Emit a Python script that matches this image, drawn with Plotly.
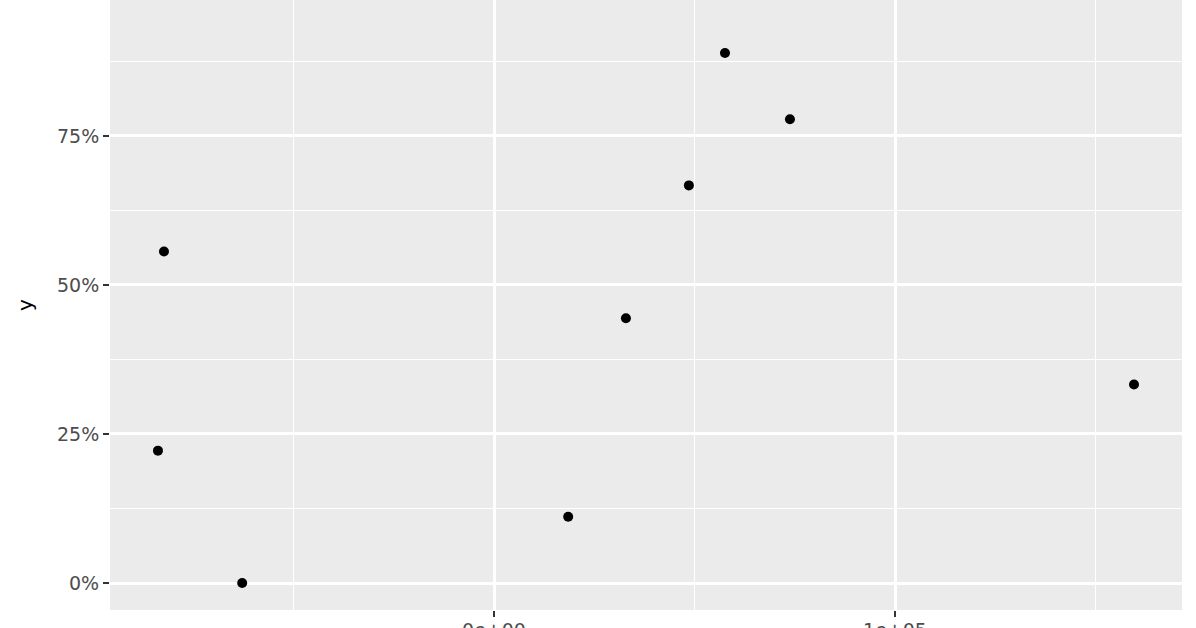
import plotly.graph_objects as go

# points (x in raw units, y as fraction)
x_vals = [-83800, -82300, -62800, 18500, 32900, 48600, 57600, 73800, 159600, -29700]
y_vals = [0.222, 0.556, 0.0, 0.111, 0.444, 0.667, 0.889, 0.778, 0.333, 1.0]

x_tickvals = [0, 100000]
x_ticktext = ["0e+00", "1e+05"]

panel_bg = "#EBEBEB"
tick_font = dict(family="DejaVu Sans", size=19, color="#4D4D4D")

fig = go.Figure()
fig.add_trace(go.Scatter(
    x=x_vals, y=y_vals, mode="markers",
    marker=dict(color="black", size=10),
    showlegend=False,
))

fig.update_xaxes(
    range=[-95761, 171571], automargin=False,
    tickvals=x_tickvals, ticktext=x_ticktext,
    ticks="outside", ticklen=6, tickwidth=2, tickcolor="#333333",
    tickfont=tick_font, ticklabelstandoff=-3,
    showgrid=True, gridcolor="white", gridwidth=2.5,
    minor=dict(dtick=50000, tick0=0, showgrid=True, gridcolor="white", gridwidth=1.2, ticks=""),
    zeroline=False, showline=False,
)
fig.update_yaxes(
    range=[-0.0453, 0.978], automargin=False,
    tick0=0, dtick=0.25, tickformat=".0%",
    ticks="outside", ticklen=6, tickwidth=2, tickcolor="#333333",
    tickfont=tick_font,
    showgrid=True, gridcolor="white", gridwidth=2.5,
    minor=dict(dtick=0.125, tick0=0, showgrid=True, gridcolor="white", gridwidth=1.2, ticks=""),
    zeroline=False, showline=False,
    title=dict(text="y", font=dict(family="DejaVu Sans", size=20, color="black"), standoff=18),
)

fig.update_layout(
    width=1196, height=628,
    margin=dict(l=110, r=14, t=0, b=18),
    plot_bgcolor=panel_bg, paper_bgcolor="white",
)

# drop the browser's default body margin so the figure sits at the top-left corner
fig.write_html("out.html", config={"displayModeBar": False},
               post_script="document.body.style.margin='0';")
